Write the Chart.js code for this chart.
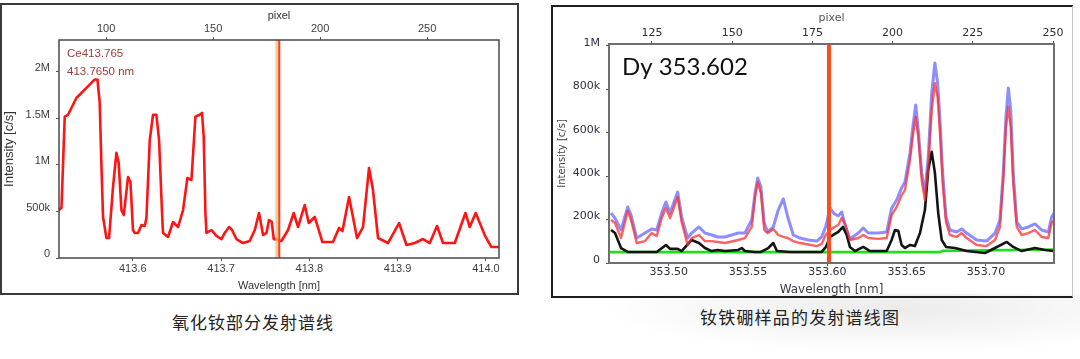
<!DOCTYPE html>
<html>
<head>
<meta charset="utf-8">
<script src="https://cdn.jsdelivr.net/npm/chart.js@4.4.1/dist/chart.umd.min.js"></script>
<style>
  body { margin: 0; width: 1080px; height: 359px; background: #fff; position: relative; overflow: hidden; }
  canvas { display: block; }
  #ceBox { position: absolute; left: 0; top: 3px; width: 515px; height: 288px; border: 2px solid #3a3a3a; }
  #dyBox { position: absolute; left: 551px; top: 5px; width: 519px; height: 289px; border: 2px solid #1e1e1e; border-right: 1px solid #c8c8c8; }
  #shade { position: absolute; left: 600px; top: 294px; width: 480px; height: 60px;
           background: radial-gradient(ellipse at 62% 25%, rgba(0,0,0,0.08), rgba(0,0,0,0) 70%); }
  .caption { position: absolute; font-family: "Noto Sans CJK SC", sans-serif; font-size: 17px; line-height: 20px; color: #222; white-space: nowrap; }
</style>
</head>
<body>
<div id="shade"></div>
<div id="ceBox"><canvas id="ceCanvas" width="515" height="288"></canvas></div>
<div id="dyBox"><canvas id="dyCanvas" width="519" height="289"></canvas></div>
<div class="caption" style="left:172px; top:312px; letter-spacing:1px;">氧化钕部分发射谱线</div>
<div class="caption" style="left:700px; top:307px; letter-spacing:1.2px;">钕铁硼样品的发射谱线图</div>
<script>
// ---- Ce spectrum (left), intensity in kc/s ----
const ceWavelength = [
  413.5165, 413.5193, 413.5230, 413.5267, 413.5362, 413.5476, 413.5570, 413.5600, 413.5626, 413.5646,
  413.5664, 413.5702, 413.5732, 413.5777, 413.5815, 413.5841, 413.5872, 413.5898, 413.5947, 413.5974,
  413.6003, 413.6023, 413.6060, 413.6099, 413.6136, 413.6155, 413.6193, 413.6230, 413.6268, 413.6298,
  413.6332, 413.6343, 413.6400, 413.6456, 413.6513, 413.6570, 413.6619, 413.6665, 413.6710, 413.6759,
  413.6785, 413.6804, 413.6823, 413.6835, 413.6891, 413.6948, 413.7005, 413.7042, 413.7091, 413.7125,
  413.7174, 413.7249, 413.7325, 413.7382, 413.7430, 413.7476, 413.7514, 413.7544, 413.7574, 413.7597,
  413.7684, 413.7759, 413.7823, 413.7872, 413.7948, 413.7993, 413.8061, 413.8148, 413.8268, 413.8336,
  413.8375, 413.8450, 413.8540, 413.8608, 413.8676, 413.8721, 413.8778, 413.8891, 413.9016, 413.9100,
  413.9194, 413.9288, 413.9364, 413.9446, 413.9514, 413.9647, 413.9768, 413.9817, 413.9884, 413.9986,
  414.0062, 414.0148
];
const ceIntensity = [
  516, 540, 1520, 1540, 1720, 1830, 1920, 1920, 1670, 980,
  440, 215, 215, 766, 1130, 1020, 516, 462, 870, 817,
  300, 269, 269, 355, 345, 430, 1270, 1540, 1540, 1270,
  484, 269, 226, 387, 333, 516, 860, 839, 1520, 1540,
  1560, 1300, 484, 269, 301, 237, 204, 269, 333, 301,
  204, 161, 183, 301, 484, 247, 269, 409, 390, 204,
  183, 301, 484, 333, 570, 376, 441, 172, 172, 323,
  290, 656, 215, 333, 968, 731, 215, 161, 376, 140,
  161, 204, 161, 344, 161, 161, 484, 333, 484, 247,
  118, 118
];
const ceWavelengthRange = [413.5165, 414.0148];
const cePixelRange = [78, 283.6];
const ceIntensityRange = [0, 2344];
const ceWavelengthTicks = [413.6, 413.7, 413.8, 413.9, 414.0];
const cePixelTicks = [100, 150, 200, 250];
const ceIntensityTicks = [0, 500, 1000, 1500, 2000];
const ceLinePosition = 413.766;
const ceWindowPosition = 413.7638;
const ceLabels = ['Ce413.765', '413.7650 nm'];

// ---- Dy spectra (right), intensity in kc/s ----
const dyWavelength = [
  353.4636, 353.4661, 353.4699, 353.4741, 353.4762, 353.4798, 353.4850, 353.4892, 353.4924, 353.4955,
  353.4982, 353.5008, 353.5056, 353.5081, 353.5119, 353.5144, 353.5190, 353.5228, 353.5270, 353.5308,
  353.5354, 353.5438, 353.5480, 353.5523, 353.5544, 353.5561, 353.5581, 353.5602, 353.5624, 353.5659,
  353.5690, 353.5722, 353.5750, 353.5785, 353.5827, 353.5880, 353.5933, 353.5964, 353.5989, 353.6016,
  353.6044, 353.6069, 353.6090, 353.6115, 353.6142, 353.6195, 353.6226, 353.6258, 353.6321, 353.6374,
  353.6405, 353.6437, 353.6468, 353.6489, 353.6521, 353.6542, 353.6557, 353.6573, 353.6595, 353.6615,
  353.6636, 353.6658, 353.6678, 353.6695, 353.6710, 353.6727, 353.6748, 353.6773, 353.6815, 353.6847,
  353.6878, 353.6941, 353.7004, 353.7057, 353.7088, 353.7109, 353.7126, 353.7141, 353.7156, 353.7172,
  353.7194, 353.7225, 353.7267, 353.7309, 353.7351, 353.7393, 353.7414, 353.7429
];
const dyBlue = [
  230, 207, 152, 258, 221, 115, 138, 157, 152, 230,
  281, 230, 327, 212, 115, 138, 166, 138, 129, 120,
  120, 138, 138, 198, 322, 392, 350, 184, 143, 166,
  244, 295, 212, 129, 115, 106, 101, 120, 166, 253,
  226, 217, 235, 166, 111, 138, 161, 138, 138, 143,
  253, 290, 346, 373, 507, 645, 728, 613, 415, 322,
  488, 783, 922, 829, 659, 415, 212, 152, 143, 157,
  138, 106, 101, 138, 198, 415, 673, 806, 705, 415,
  189, 157, 166, 180, 152, 143, 212, 230
];
const dyRed = [
  198, 184, 115, 240, 198, 92, 101, 138, 124, 207,
  253, 207, 304, 189, 83, 115, 129, 101, 101, 97,
  92, 106, 115, 166, 304, 373, 322, 152, 138, 157,
  129, 120, 115, 101, 92, 85, 78, 88, 129, 152,
  166, 175, 207, 175, 106, 115, 129, 115, 111, 115,
  221, 258, 313, 336, 475, 604, 673, 581, 382, 290,
  442, 705, 829, 765, 599, 369, 189, 129, 120, 138,
  115, 83, 78, 106, 166, 382, 627, 719, 627, 369,
  166, 129, 138, 152, 120, 115, 184, 198
];
const dyBlackWavelength = [
  353.4636, 353.4661, 353.4699, 353.4741, 353.4798, 353.4850, 353.4924, 353.4982, 353.5008, 353.5056,
  353.5081, 353.5144, 353.5190, 353.5228, 353.5270, 353.5308, 353.5354, 353.5438, 353.5460, 353.5480,
  353.5544, 353.5581, 353.5627, 353.5659, 353.5682, 353.5764, 353.5827, 353.5964, 353.5991, 353.6016,
  353.6069, 353.6098, 353.6122, 353.6142, 353.6174, 353.6226, 353.6269, 353.6374, 353.6405, 353.6426,
  353.6447, 353.6468, 353.6489, 353.6521, 353.6552, 353.6584, 353.6615, 353.6636, 353.6658, 353.6678,
  353.6699, 353.6721, 353.6748, 353.6805, 353.6878, 353.6994, 353.7057, 353.7131, 353.7172, 353.7225,
  353.7309, 353.7372, 353.7429
];
const dyBlack = [
  152, 138, 69, 51, 51, 51, 51, 83, 65, 65,
  55, 106, 92, 69, 55, 60, 55, 60, 69, 55,
  51, 51, 69, 92, 55, 51, 51, 51, 74, 120,
  143, 166, 129, 74, 55, 74, 55, 55, 106, 152,
  148, 83, 69, 83, 78, 138, 244, 429, 512, 415,
  230, 106, 74, 69, 55, 46, 69, 97, 74, 55,
  69, 60, 55
];
const dyGreenWavelength = [353.4623, 353.6710, 353.6725, 353.7429];
const dyGreen = [50, 50, 56, 62];
const dyWavelengthRange = [353.4623, 353.7429];
const dyPixelRange = [111.6, 250.3];
const dyIntensityRange = [0, 1009];
const dyWavelengthTicks = [353.50, 353.55, 353.60, 353.65, 353.70];
const dyPixelTicks = [125, 150, 175, 200, 225, 250];
const dyIntensityTicks = [0, 200, 400, 600, 800, 1000];
const dyLinePosition = 353.601;
const dyLabels = ['Dy 353.602'];

// colors
const ceCurveColor = '#ff1414';
const ceLineColor = '#ee4220';
const ceWindowColor = 'rgba(255, 185, 115, 0.8)';
const ceTextColor = '#9c3a3a';
const dyBlueColor = 'rgba(80, 80, 255, 0.65)';
const dyRedColor = 'rgba(255, 45, 45, 0.75)';
const dyBlackColor = '#141414';
const dyGreenColor = '#1ee01e';
const dyLineColor = '#ff4a1c';

function toPoints(xs, ys) {
    return xs.map((x, i) => ({ x: x, y: ys[i] }));
}

function verticalAt(x, range) {
    return [{ x: x, y: range[0] }, { x: x, y: range[1] }];
}

// 0 / 500k / 1M / 1.5M from kc/s
function kiloLabel(value) {
    if (value === 0) return '0';
    if (value >= 1000) return (value / 1000) + 'M';
    return value + 'k';
}

function fixedTicks(values) {
    return scale => { scale.ticks = values.map(v => ({ value: v })); };
}

// frame around the plot area
const plotFrame = {
    id: 'plotFrame',
    afterDatasetsDraw(chart, args, opts) {
        const { ctx, chartArea: a } = chart;
        ctx.save();
        ctx.strokeStyle = opts.color;
        ctx.lineWidth = opts.width;
        ctx.strokeRect(a.left, a.top, a.right - a.left, a.bottom - a.top);
        ctx.restore();
    }
};

// text written inside the plot area
const plotText = {
    id: 'plotText',
    afterDraw(chart, args, opts) {
        const { ctx, chartArea: a } = chart;
        ctx.save();
        ctx.font = opts.font;
        ctx.fillStyle = opts.color;
        ctx.textBaseline = 'middle';
        opts.lines.forEach((line, i) => ctx.fillText(line, a.left + opts.dx, a.top + opts.dy + i * opts.gap));
        ctx.restore();
    }
};

function axisBase(family, size, color, tickPadding, labelOffset) {
    return {
        type: 'linear',
        grid: { drawOnChartArea: false, drawTicks: true, tickLength: 3, color: '#555' },
        border: { display: false },
        ticks: { font: { family: family, size: size }, color: color, padding: tickPadding, labelOffset: labelOffset || 0, maxRotation: 0, autoSkip: false }
    };
}

// ---- left chart ----
const ceFont = '"Liberation Sans", Arial, sans-serif';
const ceTick = '#3c3c3c';

const ceChart = new Chart(document.getElementById('ceCanvas').getContext('2d'), {
    type: 'line',
    data: {
        datasets: [
            { data: verticalAt(ceLinePosition, ceIntensityRange), borderColor: ceLineColor, borderWidth: 2, order: 0 },
            { data: verticalAt(ceWindowPosition, ceIntensityRange), borderColor: ceWindowColor, borderWidth: 4, order: 1 },
            { data: toPoints(ceWavelength, ceIntensity), borderColor: ceCurveColor, borderWidth: 2.6, order: 2 }
        ]
    },
    options: {
        responsive: false,
        animation: false,
        layout: { padding: { left: 0, top: 0, right: 18, bottom: 0 } },
        elements: { point: { radius: 0 }, line: { tension: 0, borderJoinStyle: 'round' } },
        plugins: {
            legend: { display: false },
            tooltip: { enabled: false },
            plotFrame: { color: '#4a4a4a', width: 1.5 },
            plotText: { lines: ceLabels, font: '11.5px ' + ceFont, color: ceTextColor, dx: 8, dy: 14, gap: 18 }
        },
        scales: {
            x: Object.assign(axisBase(ceFont, 11, ceTick, 1), {
                position: 'bottom',
                min: ceWavelengthRange[0], max: ceWavelengthRange[1],
                afterBuildTicks: fixedTicks(ceWavelengthTicks),
                title: { display: true, text: 'Wavelength [nm]', color: '#333', font: { family: ceFont, size: 11 }, padding: { top: 0, bottom: 0 } },
                afterFit(scale) { scale.height = 35; }
            }),
            x2: Object.assign(axisBase(ceFont, 11, ceTick, 1), {
                position: 'top',
                min: cePixelRange[0], max: cePixelRange[1],
                afterBuildTicks: fixedTicks(cePixelTicks),
                title: { display: true, text: 'pixel', color: '#333', font: { family: ceFont, size: 11 }, padding: { top: 4, bottom: 0 } },
                afterFit(scale) { scale.height = 35; }
            }),
            y: Object.assign(axisBase(ceFont, 11, ceTick, 6, -4), {
                position: 'left',
                min: ceIntensityRange[0], max: ceIntensityRange[1],
                afterBuildTicks: fixedTicks(ceIntensityTicks),
                title: { display: true, text: 'Intensity [c/s]', color: '#333', font: { family: ceFont, size: 13 }, padding: { top: 0, bottom: 0 } },
                afterFit(scale) { scale.width = 57; }
            })
        }
    },
    plugins: [plotFrame, plotText]
});

// ---- right chart ----
const dyFont = '"DejaVu Sans", Verdana, sans-serif';
const dyTick = '#2e2e3e';

const dyChart = new Chart(document.getElementById('dyCanvas').getContext('2d'), {
    type: 'line',
    data: {
        datasets: [
            { data: verticalAt(dyLinePosition, dyIntensityRange), borderColor: dyLineColor, borderWidth: 4, order: 0 },
            { data: toPoints(dyWavelength, dyRed), borderColor: dyRedColor, borderWidth: 2.4, order: 1 },
            { data: toPoints(dyBlackWavelength, dyBlack), borderColor: dyBlackColor, borderWidth: 2.6, order: 2 },
            { data: toPoints(dyWavelength, dyBlue), borderColor: dyBlueColor, borderWidth: 3, order: 3 },
            { data: toPoints(dyGreenWavelength, dyGreen), borderColor: dyGreenColor, borderWidth: 2.6, order: 4 }
        ]
    },
    options: {
        responsive: false,
        animation: false,
        layout: { padding: { left: 0, top: 0, right: 18, bottom: 0 } },
        elements: { point: { radius: 0 }, line: { tension: 0, borderJoinStyle: 'round' } },
        plugins: {
            legend: { display: false },
            tooltip: { enabled: false },
            plotFrame: { color: '#6e6e6e', width: 2 },
            plotText: { lines: dyLabels, font: '24px Lato, "Open Sans", sans-serif', color: '#111', dx: 13, dy: 23, gap: 28 }
        },
        scales: {
            x: Object.assign(axisBase(dyFont, 11, dyTick, 0), {
                position: 'bottom',
                min: dyWavelengthRange[0], max: dyWavelengthRange[1],
                afterBuildTicks: fixedTicks(dyWavelengthTicks),
                title: { display: true, text: 'Wavelength [nm]', color: '#3a3a4a', font: { family: dyFont, size: 12, lineHeight: 1 }, padding: { top: 0, bottom: 0 } },
                afterFit(scale) { scale.height = 33; }
            }),
            x2: Object.assign(axisBase(dyFont, 11, dyTick, 1), {
                position: 'top',
                min: dyPixelRange[0], max: dyPixelRange[1],
                afterBuildTicks: fixedTicks(dyPixelTicks),
                title: { display: true, text: 'pixel', color: '#555', font: { family: dyFont, size: 11 }, padding: { top: 5, bottom: 0 } },
                afterFit(scale) { scale.height = 37; }
            }),
            y: Object.assign(axisBase(dyFont, 11, dyTick, 6, -3), {
                position: 'left',
                min: dyIntensityRange[0], max: dyIntensityRange[1],
                afterBuildTicks: fixedTicks(dyIntensityTicks),
                title: { display: true, text: 'Intensity [c/s]', color: '#444', font: { family: dyFont, size: 10 }, padding: { top: 3, bottom: 0 } },
                afterFit(scale) { scale.width = 56; }
            })
        }
    },
    plugins: [plotFrame, plotText]
});

// tick label formats
[ceChart, dyChart].forEach((chart, k) => {
    chart.options.scales.y.ticks.callback = kiloLabel;
    chart.options.scales.x.ticks.callback = v => v.toFixed(k === 0 ? 1 : 2);
    chart.options.scales.x2.ticks.callback = v => String(v);
    chart.update();
});
</script>
</body>
</html>
